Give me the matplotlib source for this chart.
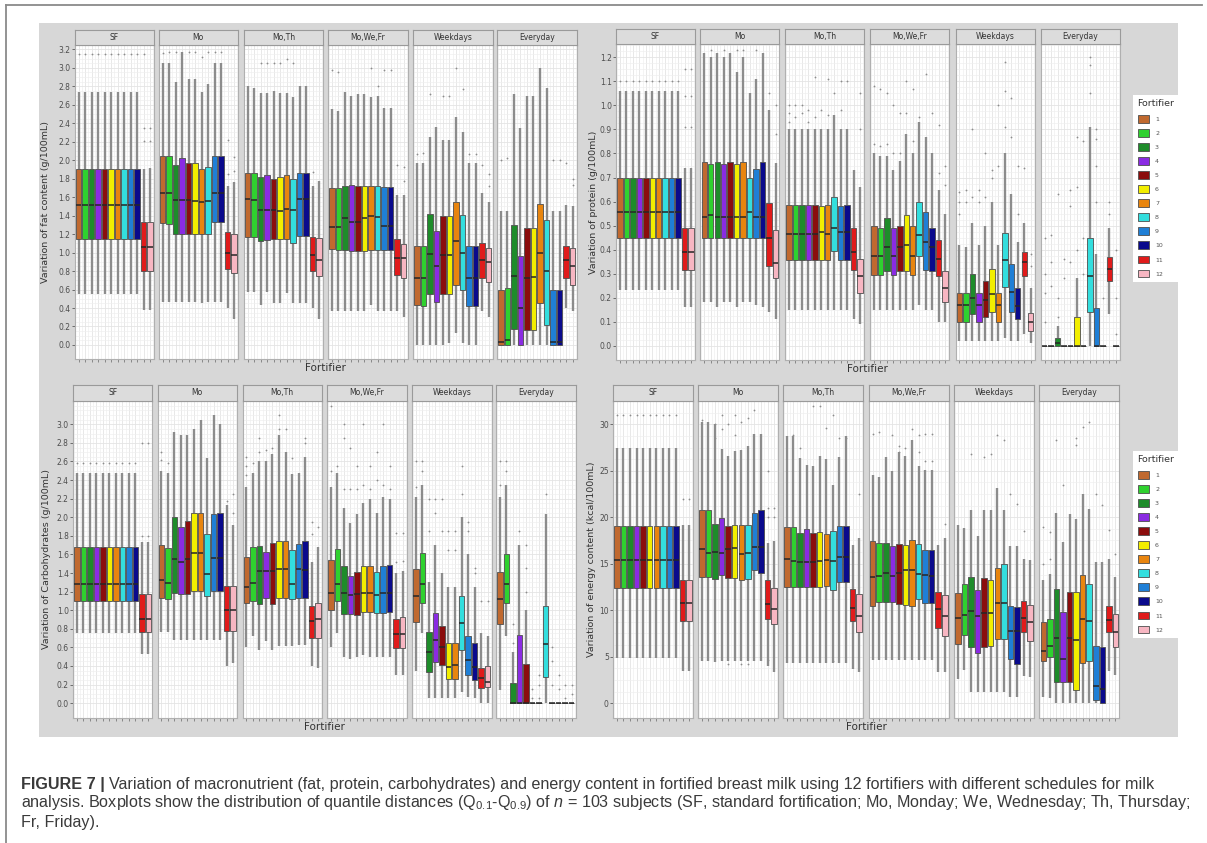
import matplotlib.pyplot as plt
from matplotlib.patches import Rectangle, Patch
from matplotlib.lines import Line2D
import numpy as np

W, H = 1207, 843

facets = ['SF', 'Mo', 'Mo,Th', 'Mo,We,Fr', 'Weekdays', 'Everyday']
fortifiers = ['1', '2', '3', '4', '5', '6', '7', '8', '9', '10', '11', '12']
colors = ['#c0692f', '#2fd12f', '#1e8c2a', '#8a2be2', '#8b0d0d', '#f2ee00',
          '#e8850f', '#33dede', '#1f7fd6', '#0a0a8c', '#e01b1b', '#f7b6c2']

# ---- fat (g/100mL) : rows = facets, cols = fortifier 1..12
fat_lo = [[0.55, 0.55, 0.55, 0.55, 0.55, 0.55, 0.55, 0.55, 0.55, 0.55, 0.38, 0.38],
          [0.47, 0.47, 0.47, 0.47, 0.47, 0.47, 0.45, 0.47, 0.47, 0.47, 0.40, 0.28],
          [0.57, 0.57, 0.43, 0.57, 0.45, 0.45, 0.56, 0.45, 0.45, 0.45, 0.40, 0.28],
          [0.37, 0.37, 0.37, 0.37, 0.37, 0.37, 0.43, 0.37, 0.37, 0.37, 0.37, 0.30],
          [0.00, 0.00, 0.00, 0.00, 0.00, 0.02, 0.13, 0.02, 0.00, 0.00, 0.37, 0.30],
          [0.00, 0.00, 0.00, 0.00, 0.00, 0.00, 0.00, 0.00, 0.00, 0.00, 0.40, 0.37]]
fat_q1 = [[1.15, 1.15, 1.15, 1.15, 1.15, 1.15, 1.15, 1.15, 1.15, 1.15, 0.80, 0.80],
          [1.32, 1.31, 1.20, 1.20, 1.20, 1.20, 1.20, 1.20, 1.33, 1.33, 0.82, 0.78],
          [1.17, 1.17, 1.13, 1.14, 1.15, 1.15, 1.15, 1.10, 1.18, 1.18, 0.80, 0.75],
          [1.04, 1.03, 1.03, 1.02, 1.02, 1.02, 1.03, 1.03, 1.03, 1.03, 0.76, 0.72],
          [0.43, 0.42, 0.55, 0.47, 0.55, 0.55, 0.65, 0.60, 0.42, 0.42, 0.72, 0.68],
          [0.00, 0.00, 0.17, 0.00, 0.16, 0.16, 0.45, 0.22, 0.00, 0.00, 0.72, 0.65]]
fat_med = [[1.51, 1.51, 1.51, 1.51, 1.51, 1.51, 1.51, 1.51, 1.51, 1.51, 1.06, 1.06],
           [1.65, 1.65, 1.57, 1.57, 1.57, 1.56, 1.55, 1.56, 1.65, 1.65, 1.00, 0.97],
           [1.58, 1.57, 1.46, 1.46, 1.46, 1.45, 1.47, 1.46, 1.58, 1.58, 0.97, 0.92],
           [1.28, 1.28, 1.37, 1.33, 1.33, 1.37, 1.40, 1.38, 1.29, 1.29, 0.94, 0.94],
           [0.72, 0.72, 0.98, 0.85, 0.97, 0.97, 1.12, 1.00, 0.72, 0.72, 0.92, 0.90],
           [0.03, 0.05, 0.75, 0.40, 0.73, 0.74, 1.00, 0.80, 0.03, 0.03, 0.92, 0.85]]
fat_q3 = [[1.90, 1.90, 1.90, 1.90, 1.90, 1.90, 1.90, 1.90, 1.90, 1.90, 1.33, 1.33],
          [2.05, 2.05, 1.95, 2.02, 1.97, 1.97, 1.90, 1.93, 2.05, 2.05, 1.22, 1.20],
          [1.86, 1.86, 1.82, 1.84, 1.80, 1.82, 1.84, 1.80, 1.86, 1.86, 1.17, 1.16],
          [1.70, 1.70, 1.72, 1.73, 1.72, 1.72, 1.72, 1.72, 1.71, 1.71, 1.15, 1.09],
          [1.07, 1.07, 1.42, 1.23, 1.40, 1.40, 1.55, 1.41, 1.07, 1.07, 1.10, 1.05],
          [0.60, 0.62, 1.30, 0.96, 1.27, 1.27, 1.53, 1.35, 0.60, 0.60, 1.07, 1.05]]
fat_hi = [[2.74, 2.74, 2.74, 2.74, 2.74, 2.74, 2.74, 2.74, 2.74, 2.74, 1.90, 1.92],
          [3.05, 3.05, 2.85, 3.17, 2.88, 2.88, 2.74, 2.82, 3.05, 3.05, 1.72, 1.76],
          [2.80, 2.78, 2.73, 2.73, 2.75, 2.73, 2.73, 2.68, 2.80, 2.80, 1.72, 1.78],
          [2.55, 2.53, 2.74, 2.70, 2.72, 2.72, 2.68, 2.70, 2.56, 2.56, 1.62, 1.62],
          [1.97, 1.97, 2.25, 2.36, 2.22, 2.22, 2.47, 2.30, 1.97, 1.97, 1.65, 1.55],
          [1.45, 1.45, 2.72, 2.35, 2.70, 2.70, 3.00, 2.78, 1.45, 1.45, 1.52, 1.50]]
# outliers: (facet, fortifier, value)
fat_out = [(0, 1, 3.15), (0, 2, 3.15), (0, 3, 3.15), (0, 4, 3.15), (0, 5, 3.15), (0, 6, 3.15),
           (0, 7, 3.15), (0, 8, 3.15), (0, 9, 3.15), (0, 10, 3.15), (0, 11, 3.15), (0, 11, 2.35),
           (0, 11, 2.21), (0, 12, 2.35), (0, 12, 2.21),
           (1, 1, 3.16), (1, 2, 3.17), (1, 3, 3.17), (1, 5, 3.17), (1, 6, 3.17), (1, 7, 3.12),
           (1, 8, 3.17), (1, 9, 3.17), (1, 10, 3.17), (1, 11, 2.22), (1, 11, 1.85),
           (1, 12, 2.03), (1, 12, 1.88),
           (2, 3, 3.05), (2, 4, 3.05), (2, 5, 3.05), (2, 6, 3.05), (2, 7, 3.10), (2, 8, 3.05),
           (2, 11, 1.87),
           (3, 1, 2.98), (3, 2, 2.95), (3, 7, 3.00), (3, 8, 2.80), (3, 9, 2.98), (3, 10, 2.98),
           (3, 11, 1.95), (3, 12, 1.93), (3, 12, 1.78),
           (4, 1, 2.07), (4, 2, 2.08), (4, 3, 2.72), (4, 5, 2.70), (4, 6, 2.70), (4, 7, 3.00),
           (4, 8, 2.77), (4, 9, 2.07), (4, 10, 2.07), (4, 11, 1.95), (4, 12, 1.85), (4, 12, 1.72),
           (5, 1, 2.00), (5, 2, 2.02), (5, 9, 2.00), (5, 10, 2.00), (5, 11, 1.97),
           (5, 12, 1.80), (5, 12, 1.73)]

# ---- protein (g/100mL)
prot_lo = [[0.23, 0.23, 0.23, 0.23, 0.23, 0.23, 0.23, 0.23, 0.23, 0.23, 0.16, 0.16],
           [0.18, 0.18, 0.16, 0.18, 0.18, 0.16, 0.18, 0.18, 0.17, 0.16, 0.14, 0.11],
           [0.15, 0.15, 0.15, 0.15, 0.15, 0.15, 0.15, 0.15, 0.15, 0.15, 0.11, 0.09],
           [0.15, 0.15, 0.15, 0.15, 0.15, 0.15, 0.15, 0.17, 0.15, 0.15, 0.10, 0.10],
           [0.02, 0.02, 0.02, 0.02, 0.02, 0.02, 0.02, 0.03, 0.02, 0.02, 0.05, 0.01],
           [0.00, 0.00, 0.00, 0.00, 0.00, 0.00, 0.00, 0.00, 0.00, 0.00, 0.13, 0.00]]
prot_q1 = [[0.45, 0.45, 0.45, 0.45, 0.45, 0.45, 0.45, 0.45, 0.45, 0.45, 0.315, 0.315],
           [0.45, 0.45, 0.45, 0.45, 0.45, 0.45, 0.45, 0.45, 0.45, 0.45, 0.33, 0.28],
           [0.355, 0.355, 0.355, 0.355, 0.355, 0.355, 0.355, 0.395, 0.355, 0.355, 0.315, 0.22],
           [0.295, 0.295, 0.31, 0.295, 0.31, 0.31, 0.295, 0.375, 0.315, 0.31, 0.29, 0.18],
           [0.10, 0.10, 0.13, 0.10, 0.12, 0.14, 0.10, 0.245, 0.14, 0.11, 0.29, 0.06],
           [0.00, 0.00, 0.00, 0.00, 0.00, 0.00, 0.00, 0.14, 0.00, 0.00, 0.27, 0.00]]
prot_med = [[0.555, 0.555, 0.555, 0.555, 0.555, 0.555, 0.555, 0.555, 0.555, 0.555, 0.39, 0.39],
            [0.535, 0.545, 0.535, 0.535, 0.535, 0.535, 0.535, 0.555, 0.535, 0.535, 0.45, 0.345],
            [0.465, 0.465, 0.465, 0.465, 0.465, 0.475, 0.465, 0.49, 0.475, 0.475, 0.39, 0.29],
            [0.375, 0.375, 0.41, 0.375, 0.41, 0.42, 0.375, 0.46, 0.43, 0.41, 0.36, 0.24],
            [0.17, 0.17, 0.20, 0.17, 0.19, 0.215, 0.17, 0.355, 0.225, 0.165, 0.35, 0.10],
            [0.00, 0.00, 0.01, 0.00, 0.00, 0.00, 0.00, 0.29, 0.00, 0.00, 0.32, 0.00]]
prot_q3 = [[0.70, 0.70, 0.70, 0.70, 0.70, 0.70, 0.70, 0.70, 0.70, 0.70, 0.49, 0.49],
           [0.765, 0.755, 0.765, 0.755, 0.765, 0.755, 0.765, 0.70, 0.735, 0.765, 0.595, 0.48],
           [0.585, 0.585, 0.585, 0.585, 0.585, 0.58, 0.585, 0.62, 0.58, 0.585, 0.49, 0.36],
           [0.50, 0.49, 0.53, 0.49, 0.50, 0.545, 0.50, 0.60, 0.555, 0.49, 0.44, 0.31],
           [0.22, 0.22, 0.30, 0.22, 0.27, 0.32, 0.22, 0.47, 0.34, 0.24, 0.39, 0.135],
           [0.00, 0.00, 0.03, 0.00, 0.00, 0.12, 0.00, 0.45, 0.155, 0.00, 0.37, 0.00]]
prot_hi = [[1.06, 1.06, 1.06, 1.06, 1.06, 1.06, 1.06, 1.06, 1.06, 1.06, 0.74, 0.74],
           [1.22, 1.20, 1.22, 1.20, 1.22, 1.14, 1.20, 1.05, 1.11, 1.22, 0.98, 0.76],
           [0.90, 0.90, 0.90, 0.90, 0.90, 0.90, 0.90, 0.96, 0.90, 0.90, 0.73, 0.66],
           [0.80, 0.79, 0.79, 0.73, 0.77, 0.88, 0.80, 0.93, 0.87, 0.80, 0.65, 0.55],
           [0.42, 0.41, 0.51, 0.42, 0.50, 0.60, 0.42, 0.80, 0.63, 0.43, 0.51, 0.24],
           [0.00, 0.00, 0.08, 0.00, 0.00, 0.28, 0.00, 0.91, 0.38, 0.00, 0.49, 0.00]]
prot_out = [(0, 1, 1.10), (0, 2, 1.10), (0, 3, 1.10), (0, 4, 1.10), (0, 5, 1.10), (0, 6, 1.10),
            (0, 7, 1.10), (0, 8, 1.10), (0, 9, 1.10), (0, 10, 1.10), (0, 11, 0.91), (0, 11, 1.04),
            (0, 11, 1.15), (0, 12, 0.91), (0, 12, 1.04), (0, 12, 1.15),
            (1, 2, 1.23), (1, 4, 1.23), (1, 6, 1.23), (1, 7, 1.23), (1, 9, 1.23), (1, 11, 1.05),
            (1, 12, 0.88), (1, 12, 1.00),
            (2, 1, 0.93), (2, 1, 0.97), (2, 1, 1.00), (2, 2, 0.95), (2, 2, 1.00), (2, 3, 0.97),
            (2, 3, 1.00), (2, 4, 0.93), (2, 4, 0.98), (2, 5, 0.95), (2, 5, 1.12), (2, 6, 0.98),
            (2, 7, 0.96), (2, 7, 1.11), (2, 8, 1.05), (2, 9, 0.98), (2, 9, 1.10), (2, 10, 1.10),
            (2, 12, 0.90), (2, 12, 1.05),
            (3, 1, 0.84), (3, 1, 1.08), (3, 2, 0.83), (3, 2, 1.07), (3, 3, 0.84), (3, 3, 1.05),
            (3, 4, 0.80), (3, 4, 1.00), (3, 5, 0.80), (3, 5, 0.97), (3, 6, 0.97), (3, 6, 1.10),
            (3, 7, 0.85), (3, 7, 1.07), (3, 8, 0.95), (3, 9, 1.13), (3, 10, 0.97), (3, 11, 0.72),
            (3, 11, 0.92), (3, 12, 0.67), (3, 12, 0.75),
            (4, 1, 0.55), (4, 1, 0.60), (4, 1, 0.64), (4, 2, 0.60), (4, 2, 0.65), (4, 3, 0.62),
            (4, 3, 0.90), (4, 4, 0.60), (4, 4, 0.65), (4, 5, 0.62), (4, 5, 0.80), (4, 6, 0.70),
            (4, 6, 0.73), (4, 7, 0.75), (4, 7, 1.00), (4, 8, 0.91), (4, 8, 1.06), (4, 8, 1.18),
            (4, 9, 0.87), (4, 9, 1.03), (4, 10, 0.55), (4, 10, 0.75), (4, 11, 0.74),
            (4, 12, 0.33), (4, 12, 0.38),
            (5, 1, 0.10), (5, 1, 0.22), (5, 1, 0.30), (5, 1, 0.45), (5, 2, 0.25), (5, 2, 0.35),
            (5, 2, 0.46), (5, 3, 0.12), (5, 3, 0.20), (5, 3, 0.63), (5, 4, 0.28), (5, 4, 0.36),
            (5, 5, 0.35), (5, 5, 0.58), (5, 5, 0.65), (5, 6, 0.40), (5, 6, 0.66), (5, 6, 0.87),
            (5, 7, 0.30), (5, 7, 0.45), (5, 7, 0.85), (5, 8, 1.05), (5, 8, 1.17), (5, 8, 1.20),
            (5, 9, 0.60), (5, 9, 0.75), (5, 9, 0.86), (5, 9, 0.90), (5, 10, 0.20),
            (5, 11, 0.55), (5, 11, 0.60), (5, 12, 0.05), (5, 12, 0.20), (5, 12, 0.40)]

# ---- carbohydrates (g/100mL)
carb_lo = [[0.75, 0.75, 0.75, 0.75, 0.75, 0.75, 0.75, 0.75, 0.75, 0.75, 0.53, 0.53],
           [0.77, 0.77, 0.68, 0.68, 0.68, 0.68, 0.68, 0.68, 0.68, 0.68, 0.40, 0.43],
           [0.60, 0.72, 0.57, 0.67, 0.57, 0.62, 0.62, 0.62, 0.63, 0.63, 0.40, 0.38],
           [0.60, 0.75, 0.50, 0.48, 0.50, 0.52, 0.50, 0.50, 0.50, 0.50, 0.30, 0.30],
           [0.35, 0.75, 0.05, 0.05, 0.05, 0.05, 0.05, 0.12, 0.07, 0.05, 0.00, 0.00],
           [0.14, 0.72, 0.00, 0.00, 0.00, 0.00, 0.00, 0.00, 0.00, 0.00, 0.00, 0.00]]
carb_q1 = [[1.10, 1.10, 1.10, 1.10, 1.10, 1.10, 1.10, 1.10, 1.10, 1.10, 0.77, 0.77],
           [1.13, 1.12, 1.18, 1.17, 1.17, 1.21, 1.21, 1.15, 1.21, 1.21, 0.78, 0.78],
           [1.08, 1.10, 1.07, 1.13, 1.07, 1.13, 1.13, 1.12, 1.13, 1.13, 0.70, 0.70],
           [1.00, 1.10, 0.96, 0.96, 0.95, 0.98, 0.98, 0.97, 0.97, 0.98, 0.59, 0.59],
           [0.87, 1.08, 0.33, 0.44, 0.41, 0.26, 0.26, 0.57, 0.30, 0.25, 0.16, 0.17],
           [0.85, 1.08, 0.00, 0.00, 0.00, 0.00, 0.00, 0.28, 0.00, 0.00, 0.00, 0.00]]
carb_med = [[1.28, 1.28, 1.28, 1.28, 1.28, 1.28, 1.28, 1.28, 1.28, 1.28, 0.90, 0.90],
            [1.32, 1.29, 1.55, 1.52, 1.55, 1.61, 1.61, 1.39, 1.56, 1.56, 1.00, 1.00],
            [1.25, 1.29, 1.42, 1.42, 1.42, 1.44, 1.44, 1.28, 1.44, 1.43, 0.88, 0.90],
            [1.19, 1.28, 1.19, 1.16, 1.17, 1.19, 1.19, 1.16, 1.19, 1.19, 0.74, 0.74],
            [1.15, 1.28, 0.55, 0.68, 0.60, 0.39, 0.41, 0.86, 0.46, 0.39, 0.27, 0.23],
            [1.12, 1.28, 0.00, 0.00, 0.00, 0.00, 0.00, 0.64, 0.00, 0.00, 0.00, 0.00]]
carb_q3 = [[1.68, 1.68, 1.68, 1.68, 1.68, 1.68, 1.68, 1.68, 1.68, 1.68, 1.17, 1.17],
           [1.70, 1.67, 2.00, 1.89, 1.96, 2.05, 2.05, 1.82, 2.03, 2.05, 1.26, 1.26],
           [1.57, 1.68, 1.69, 1.63, 1.72, 1.74, 1.74, 1.65, 1.71, 1.74, 1.05, 1.08],
           [1.54, 1.66, 1.48, 1.37, 1.41, 1.48, 1.48, 1.41, 1.48, 1.49, 0.91, 0.93],
           [1.44, 1.62, 0.76, 0.97, 0.83, 0.65, 0.65, 1.15, 0.72, 0.65, 0.38, 0.40],
           [1.41, 1.60, 0.22, 0.73, 0.42, 0.00, 0.00, 1.05, 0.00, 0.00, 0.00, 0.00]]
carb_hi = [[2.48, 2.48, 2.48, 2.48, 2.48, 2.48, 2.48, 2.48, 2.48, 2.48, 1.73, 1.73],
           [2.50, 2.48, 2.92, 2.88, 2.88, 2.95, 3.05, 2.64, 3.10, 3.00, 2.13, 1.92],
           [2.32, 2.48, 2.60, 2.60, 2.68, 2.88, 2.70, 2.47, 2.48, 2.65, 1.52, 1.68],
           [2.33, 2.48, 2.10, 1.94, 2.04, 2.15, 2.20, 2.05, 2.22, 2.20, 1.40, 1.42],
           [2.22, 2.35, 1.30, 1.70, 1.40, 1.25, 1.25, 2.00, 1.60, 1.25, 0.75, 0.72],
           [2.22, 2.35, 0.55, 1.70, 1.00, 0.00, 0.00, 2.03, 0.00, 0.00, 0.00, 0.00]]
carb_out = [(0, 1, 2.58), (0, 2, 2.58), (0, 3, 2.58), (0, 4, 2.58), (0, 5, 2.58), (0, 6, 2.58),
            (0, 7, 2.58), (0, 8, 2.58), (0, 9, 2.58), (0, 10, 2.58), (0, 11, 1.80), (0, 11, 2.80),
            (0, 12, 1.80), (0, 12, 2.80),
            (1, 1, 2.62), (1, 1, 2.70), (1, 2, 2.58), (1, 11, 2.18), (1, 12, 2.05), (1, 12, 2.25),
            (2, 1, 2.45), (2, 1, 2.55), (2, 1, 2.65), (2, 2, 2.58), (2, 3, 2.70), (2, 3, 2.85),
            (2, 4, 2.72), (2, 5, 2.75), (2, 6, 2.95), (2, 6, 3.10), (2, 7, 2.95), (2, 8, 2.64),
            (2, 10, 2.80), (2, 10, 2.85), (2, 11, 1.82), (2, 11, 1.95), (2, 12, 1.90),
            (3, 1, 2.50), (3, 1, 3.20), (3, 2, 2.55), (3, 3, 2.30), (3, 3, 2.85), (3, 3, 3.00),
            (3, 4, 2.30), (3, 4, 2.75), (3, 5, 2.30), (3, 5, 2.55), (3, 6, 2.35), (3, 6, 3.00),
            (3, 7, 2.30), (3, 7, 2.55), (3, 8, 2.40), (3, 8, 2.70), (3, 9, 2.35), (3, 9, 3.00),
            (3, 10, 2.30), (3, 10, 2.55), (3, 11, 1.52), (3, 11, 1.83), (3, 12, 1.53), (3, 12, 1.83),
            (4, 1, 2.33), (4, 1, 2.60), (4, 2, 2.50), (4, 2, 2.60), (4, 3, 1.85), (4, 3, 2.20),
            (4, 4, 2.05), (4, 4, 2.20), (4, 5, 1.85), (4, 5, 2.20), (4, 6, 1.65), (4, 6, 1.85),
            (4, 7, 1.65), (4, 7, 1.85), (4, 8, 2.25), (4, 8, 2.55), (4, 9, 1.85), (4, 9, 1.95),
            (4, 10, 1.40), (4, 10, 1.45), (4, 11, 1.10), (4, 12, 1.10),
            (5, 1, 2.35), (5, 1, 2.60), (5, 2, 2.50), (5, 2, 2.60), (5, 3, 0.65), (5, 3, 0.85),
            (5, 4, 1.85), (5, 5, 1.20), (5, 5, 1.45), (5, 5, 1.70), (5, 6, 0.05), (5, 6, 0.15),
            (5, 7, 0.05), (5, 7, 0.20), (5, 7, 0.30), (5, 8, 2.25), (5, 9, 0.20), (5, 9, 0.45),
            (5, 9, 0.60), (5, 10, 0.15), (5, 10, 0.30), (5, 11, 0.05), (5, 11, 0.20),
            (5, 12, 0.10), (5, 12, 0.20)]

# ---- energy (kcal/100mL)
kcal_lo = [[4.9, 4.9, 4.9, 4.9, 4.9, 4.9, 4.9, 4.9, 4.9, 4.9, 3.5, 3.5],
           [4.5, 4.5, 4.4, 4.5, 4.5, 4.5, 4.5, 4.5, 4.5, 4.5, 4.0, 3.4],
           [4.3, 4.3, 4.3, 4.3, 4.3, 4.3, 4.3, 4.3, 4.3, 4.3, 3.7, 3.3],
           [4.6, 4.6, 4.6, 4.6, 4.6, 4.6, 4.6, 4.6, 4.6, 4.6, 3.4, 3.4],
           [2.6, 3.6, 1.2, 1.2, 1.2, 1.2, 1.2, 1.2, 0.7, 0.7, 2.9, 2.8],
           [0.7, 0.5, 0.0, 0.0, 0.0, 0.0, 0.0, 0.0, 0.0, 0.0, 3.5, 3.0]]
kcal_q1 = [[12.4, 12.4, 12.4, 12.4, 12.4, 12.4, 12.4, 12.4, 12.4, 12.4, 8.8, 8.8],
           [13.6, 13.6, 13.4, 13.8, 13.5, 13.5, 13.2, 13.4, 14.3, 14.0, 9.0, 8.5],
           [12.5, 12.5, 12.5, 12.5, 12.5, 12.5, 12.6, 12.2, 13.0, 13.0, 8.8, 7.7],
           [10.5, 10.9, 10.9, 10.9, 10.7, 10.6, 10.4, 11.2, 10.8, 10.8, 8.1, 7.2],
           [6.4, 7.3, 6.0, 5.4, 6.0, 6.1, 6.9, 6.9, 4.7, 4.2, 7.6, 6.7],
           [4.5, 5.0, 2.3, 2.3, 2.3, 1.4, 4.3, 4.5, 0.3, 0.0, 7.7, 6.0]]
kcal_med = [[15.4, 15.4, 15.4, 15.4, 15.4, 15.4, 15.4, 15.4, 15.4, 15.4, 10.8, 10.8],
            [16.6, 16.2, 16.3, 16.2, 16.6, 16.7, 16.0, 16.2, 16.8, 16.8, 10.7, 10.1],
            [15.5, 15.3, 15.2, 15.2, 15.2, 15.3, 15.4, 15.3, 15.7, 15.7, 10.2, 9.4],
            [13.6, 13.7, 14.0, 13.7, 14.0, 14.3, 14.3, 13.9, 13.8, 13.7, 10.1, 9.4],
            [9.2, 9.5, 9.9, 9.4, 9.7, 9.7, 10.8, 10.8, 7.8, 7.8, 9.2, 8.7],
            [5.6, 6.2, 7.0, 4.8, 7.0, 6.8, 9.0, 8.8, 1.8, 1.5, 8.9, 7.7]]
kcal_q3 = [[19.1, 19.1, 19.1, 19.1, 19.1, 19.1, 19.1, 19.1, 19.1, 19.1, 13.3, 13.3],
           [20.8, 20.8, 19.3, 19.9, 19.1, 19.2, 19.2, 19.2, 20.5, 20.8, 13.2, 12.4],
           [19.0, 19.0, 18.3, 18.7, 18.3, 18.4, 18.2, 18.5, 19.1, 19.1, 12.3, 11.7],
           [17.4, 17.2, 17.2, 16.9, 17.1, 17.0, 17.6, 17.1, 16.5, 16.5, 12.0, 11.6],
           [11.9, 12.8, 13.6, 12.2, 13.5, 13.3, 14.5, 15.0, 10.4, 10.3, 11.0, 10.6],
           [8.7, 9.1, 12.3, 9.8, 12.0, 12.0, 13.8, 12.8, 6.2, 6.0, 10.5, 9.6]]
kcal_hi = [[27.4, 27.4, 27.4, 27.4, 27.4, 27.4, 27.4, 27.4, 27.4, 27.4, 19.2, 19.2],
           [30.3, 30.2, 30.0, 27.3, 26.6, 27.1, 27.2, 27.7, 29.0, 29.0, 17.2, 17.4],
           [28.7, 28.7, 26.4, 25.6, 25.5, 26.6, 26.3, 23.5, 26.5, 28.7, 17.0, 17.8],
           [24.5, 24.3, 26.5, 25.0, 27.0, 26.6, 28.3, 25.5, 25.1, 25.1, 17.0, 17.8],
           [19.2, 18.8, 20.8, 18.0, 20.8, 20.8, 23.1, 20.8, 16.9, 16.9, 15.5, 15.4],
           [13.2, 13.9, 20.5, 17.3, 20.3, 19.8, 22.5, 20.9, 15.2, 15.2, 15.5, 13.6]]
kcal_out = [(0, 1, 31), (0, 2, 31), (0, 3, 31), (0, 4, 31), (0, 5, 31), (0, 6, 31), (0, 7, 31),
            (0, 8, 31), (0, 9, 31), (0, 10, 31), (0, 11, 22), (0, 12, 22),
            (1, 1, 30.5), (1, 3, 28.5), (1, 3, 30.0), (1, 4, 29.5), (1, 4, 31.0), (1, 5, 4.2),
            (1, 5, 30.0), (1, 6, 28.8), (1, 6, 31.0), (1, 7, 4.2), (1, 7, 30.3), (1, 8, 4.2),
            (1, 8, 30.7), (1, 9, 31.5), (1, 11, 4.6), (1, 11, 20.0), (1, 11, 21.0), (1, 11, 25.0),
            (1, 12, 20.0), (1, 12, 21.0),
            (2, 2, 28.8), (2, 3, 27.4), (2, 5, 32.0), (2, 6, 32.0), (2, 7, 29.6), (2, 8, 4.5),
            (2, 8, 31.0), (2, 9, 28.5), (2, 10, 28.5), (2, 12, 22.5),
            (3, 1, 29.0), (3, 2, 29.2), (3, 4, 28.8), (3, 5, 27.0), (3, 5, 27.7), (3, 6, 27.5),
            (3, 7, 29.5), (3, 8, 27.0), (3, 8, 28.8), (3, 9, 26.0), (3, 9, 29.0), (3, 10, 26.0),
            (3, 10, 29.0), (3, 12, 19.3),
            (4, 3, 26.8), (4, 5, 26.5), (4, 6, 26.8), (4, 7, 28.8), (4, 8, 28.3), (4, 9, 22.5),
            (4, 10, 21.4), (4, 11, 18.5),
            (5, 1, 15.0), (5, 1, 19.0), (5, 2, 15.5), (5, 2, 18.4), (5, 3, 28.3), (5, 4, 23.5),
            (5, 6, 27.8), (5, 6, 28.5), (5, 7, 29.7), (5, 8, 30.2), (5, 9, 22.5), (5, 10, 21.3),
            (5, 11, 18.6), (5, 12, 16.0)]

# panel layouts in pixels: facet lefts, facet width, strip top, strip height, plot bottom
panels = [
    dict(lo=fat_lo, q1=fat_q1, med=fat_med, q3=fat_q3, hi=fat_hi, out=fat_out,
         lefts=[74.6, 158.6, 243.6, 328, 413, 497], fw=79.5, top=30, sh=14.5, bottom=359,
         ylim=(-0.152, 3.252), ticks=np.arange(0, 3.21, 0.2), fmt='%.1f', minor=0.05,
         ylabel='Variation of fat content (g/100mL)', ylx=46),
    dict(lo=prot_lo, q1=prot_q1, med=prot_med, q3=prot_q3, hi=prot_hi, out=prot_out,
         lefts=[616, 700.4, 785, 870, 955.6, 1040.7], fw=79, top=29, sh=15, bottom=360,
         ylim=(-0.06, 1.256), ticks=np.arange(0, 1.21, 0.1), fmt='%.1f', minor=0.025,
         ylabel='Variation of protein (g/100mL)', ylx=593),
    dict(lo=carb_lo, q1=carb_q1, med=carb_med, q3=carb_q3, hi=carb_hi, out=carb_out,
         lefts=[72.9, 157.5, 242.5, 327, 412, 496], fw=79.5, top=385, sh=15.5, bottom=718,
         ylim=(-0.16, 3.256), ticks=np.arange(0, 3.01, 0.2), fmt='%.1f', minor=0.05,
         ylabel='Variation of Carbohydrates (g/100mL)', ylx=47),
    dict(lo=kcal_lo, q1=kcal_q1, med=kcal_med, q3=kcal_q3, hi=kcal_hi, out=kcal_out,
         lefts=[613, 698, 783, 868.7, 954, 1039.4], fw=80, top=385, sh=15.5, bottom=718,
         ylim=(-1.6, 32.56), ticks=np.arange(0, 31, 5), fmt='%d', minor=1.25,
         ylabel='Variation of energy content (kcal/100mL)', ylx=591),
]

fig = plt.figure(figsize=(W / 100, H / 100), dpi=100)
fig.patch.set_facecolor('white')

# gray plot background, kept behind the axes
fig.patches.append(Rectangle((39 / W, 1 - 737 / H), (1178 - 39) / W, (737 - 23) / H,
                             transform=fig.transFigure, facecolor='#d7d7d7', edgecolor='none',
                             zorder=-10))
# outer frame (top and left)
fig.add_artist(Line2D([6 / W, 1202 / W], [1 - 5 / H, 1 - 5 / H], color='#8a8a8a', lw=1.3))
fig.add_artist(Line2D([6 / W, 6 / W], [1 - 5 / H, 0], color='#8a8a8a', lw=1.3))

pos = np.arange(1, 13)
for p in panels:
    ptop = p['top'] + p['sh']
    for f, name in enumerate(facets):
        ax = fig.add_axes([p['lefts'][f] / W, 1 - p['bottom'] / H, p['fw'] / W, (p['bottom'] - ptop) / H])
        ax.set_facecolor('white')
        stats = []
        for b in range(12):
            fl = [v for (ff, bb, v) in p['out'] if ff == f and bb == b + 1]
            stats.append(dict(whislo=p['lo'][f][b], q1=p['q1'][f][b], med=p['med'][f][b],
                              q3=p['q3'][f][b], whishi=p['hi'][f][b], fliers=fl))
        res = ax.bxp(stats, positions=pos, widths=0.84, patch_artist=True, showcaps=False,
                     boxprops=dict(edgecolor='#4d4d4d', linewidth=0.6),
                     whiskerprops=dict(color='#8c8c8c', linewidth=1.7, solid_capstyle='butt'),
                     medianprops=dict(color='#262626', linewidth=1.1),
                     flierprops=dict(marker='o', markersize=1.3, markerfacecolor='#8c8c8c',
                                     markeredgecolor='none'))
        for patch, c in zip(res['boxes'], colors):
            patch.set_facecolor(c)
            patch.set_zorder(3)
        for m in res['medians']:
            m.set_zorder(4)
        ax.set_xlim(0.4, 12.6)
        ax.set_ylim(*p['ylim'])
        ax.set_xticks(pos)
        ax.set_xticks(np.arange(0.5, 12.6, 1.0), minor=True)
        ax.set_yticks(p['ticks'])
        ax.set_yticks(np.arange(0, p['ylim'][1], p['minor']), minor=True)
        ax.grid(which='major', color='#e4e4e4', linewidth=0.6)
        ax.grid(which='minor', color='#efefef', linewidth=0.45)
        ax.set_axisbelow(True)
        ax.tick_params(axis='x', which='major', length=2, width=0.6, color='#7a7a7a',
                       labelbottom=False)
        ax.tick_params(axis='x', which='minor', length=0)
        ax.tick_params(axis='y', which='minor', length=0)
        if f == 0:
            ax.set_yticklabels([p['fmt'] % t for t in p['ticks']])
            ax.tick_params(axis='y', which='major', length=2, width=0.6, color='#5a5a5a',
                           labelsize=5.5, labelcolor='#4d4d4d', pad=1)
        else:
            ax.tick_params(axis='y', which='major', length=0, labelleft=False)
        for s in ax.spines.values():
            s.set_color('#b0b0b0')
            s.set_linewidth(0.8)
        # facet strip
        sax = fig.add_axes([p['lefts'][f] / W, 1 - ptop / H, p['fw'] / W, p['sh'] / H])
        sax.set_facecolor('#dcdcdc')
        sax.set_xticks([])
        sax.set_yticks([])
        for s in sax.spines.values():
            s.set_color('#9a9a9a')
            s.set_linewidth(0.8)
        sax.text(0.5, 0.5, name, ha='center', va='center', fontsize=5.5, color='#333333',
                 transform=sax.transAxes)
    xmid = (p['lefts'][0] + p['lefts'][-1] + p['fw']) / 2
    fig.text(xmid / W, 1 - (p['bottom'] + 9) / H, 'Fortifier', ha='center', va='center',
             fontsize=7.5, color='#333333')
    fig.text(p['ylx'] / W, 1 - (ptop + p['bottom']) / 2 / H, p['ylabel'], rotation=90,
             ha='center', va='center', fontsize=6.8, color='#333333')

# legends (right panels)
handles = [Patch(facecolor=c, edgecolor='#4d4d4d', linewidth=0.6) for c in colors]
for ytop in [92, 448]:
    leg = fig.legend(handles, fortifiers, title='Fortifier', loc='upper left',
                     bbox_to_anchor=(1130 / W, 1 - ytop / H), fontsize=4.5, title_fontsize=6.8,
                     handlelength=1.9, handleheight=1.55, labelspacing=1.0, handletextpad=0.9,
                     borderpad=0.7, frameon=True, fancybox=False, edgecolor='none',
                     facecolor='white', framealpha=1)
    leg._legend_box.align = 'left'
    leg.get_title().set_color('#333333')
    for t in leg.get_texts():
        t.set_color('#555555')

# caption
plt.rcParams['mathtext.fontset'] = 'custom'
plt.rcParams['mathtext.rm'] = 'Liberation Sans'
plt.rcParams['mathtext.it'] = 'Liberation Sans:italic'
cap_bold = 'FIGURE 7 |'
cap_1 = ('Variation of macronutrient (fat, protein, carbohydrates) and energy content in fortified '
         'breast milk using 12 fortifiers with different schedules for milk')
cap_2 = ('analysis. Boxplots show the distribution of quantile distances (Q$_{0.1}$-Q$_{0.9}$) of '
         '$n$ = 103 subjects (SF, standard fortification; Mo, Monday; We, Wednesday; Th, Thursday;')
cap_3 = 'Fr, Friday).'

fs = 10
r = fig.canvas.get_renderer()
t2 = fig.text(21 / W, 1 - 803 / H, cap_2, fontsize=fs, family='Liberation Sans', color='#3a3a3a',
              va='center')
w2 = t2.get_window_extent(r).width
fs = fs * (1169 / w2)
t2.set_fontsize(fs)
tb = fig.text(21 / W, 1 - 784 / H, cap_bold, fontsize=fs, family='Liberation Sans',
              weight='bold', color='#3a3a3a', va='center')
wb = tb.get_window_extent(r).width
fig.text((21 + wb + fs * 0.35) / W, 1 - 784 / H, cap_1, fontsize=fs, family='Liberation Sans',
         color='#3a3a3a', va='center')
fig.text(21 / W, 1 - 822 / H, cap_3, fontsize=fs, family='Liberation Sans', color='#3a3a3a',
         va='center')

fig.savefig('out.png', dpi=100)
